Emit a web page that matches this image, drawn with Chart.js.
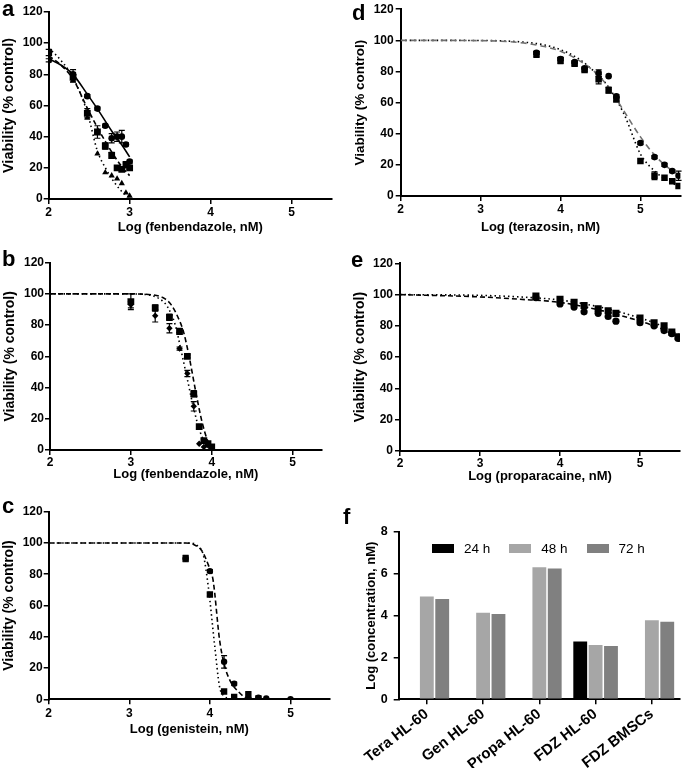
<!DOCTYPE html>
<html><head><meta charset="utf-8">
<script src="https://cdn.jsdelivr.net/npm/chart.js@4.4.0/dist/chart.umd.min.js"></script>
<style>
html,body{margin:0;padding:0;background:#fff;}
#fig{position:relative;width:685px;height:768px;overflow:hidden;font-family:"Liberation Sans",Arial,sans-serif;}
canvas{position:absolute;}
.letter{position:absolute;font-weight:bold;font-size:22px;line-height:20px;color:#000;}
#fLegend{position:absolute;left:432px;top:541px;display:flex;align-items:center;font-size:13.5px;color:#000;}
#fLegend .item{display:flex;align-items:center;margin-right:19px;}
#fLegend .box{width:22px;height:9px;margin-right:10px;}
</style></head><body>
<div id="fig">
  <canvas id="cA"></canvas><canvas id="cB"></canvas><canvas id="cC"></canvas>
  <canvas id="cD"></canvas><canvas id="cE"></canvas><canvas id="cF"></canvas>
  <div class="letter" style="left:2px;top:-1px;">a</div>
  <div class="letter" style="left:352px;top:3px;">d</div>
  <div class="letter" style="left:2px;top:249px;">b</div>
  <div class="letter" style="left:351px;top:250px;">e</div>
  <div class="letter" style="left:2px;top:496px;">c</div>
  <div class="letter" style="left:343px;top:507px;">f</div>
  <div id="fLegend"></div>
</div>
<script>
// ---------- Panel a : fenbendazole ----------
const aX         = [2, 2.301, 2.477, 2.602, 2.699, 2.778, 2.845, 2.903, 2.954, 3.0];
const aCircles   = [89, 80, 66, 58, 47, 39, 40, 40, 35, 24];
const aCirclesEr = [1, 3, 1, 1, 1, 3, 3, 4, 1, 1];
const aSquares   = [94, 78, 55, 43, 34, 28, 20, 19, 22, 20];
const aSquaresEr = [2, 3, 3, 4, 2, 2, 1, 1, 2, 1];
const aTriangles = [93, 76, 52, 29, 17, 15, 13, 10, 4, 2];
const aSolidX  = [2, 2.15, 2.3, 2.48, 2.6, 2.78, 2.9, 3.0];
const aSolidY  = [90, 86, 80, 67, 58, 43.5, 35, 27];
const aDashX   = [2, 2.15, 2.3, 2.48, 2.6, 2.7, 2.78, 2.9, 3.0];
const aDashY   = [92, 86, 77, 58, 46, 37, 30, 21, 15];
const aDotX    = [2, 2.15, 2.3, 2.48, 2.6, 2.7, 2.78, 2.9, 3.0];
const aDotY    = [97, 89, 78, 55, 31, 20, 13, 5, 1];

// ---------- Panel b : fenbendazole ----------
const bX        = [3.0, 3.301, 3.477, 3.602, 3.699, 3.778, 3.845, 3.903, 3.954, 4.0];
const bSquares  = [95, 91, 85, 76, 60, 36, 15, 6, 4, 2];
const bSquaresEr= [5, 2, 2, 2, 1, 2, 1, 1, 1, 1];
const bDiamonds = [93, 86, 78, 65, 49, 28, 4, 2, 3, 1];
const bDiamondsEr=[2, 4, 3, 1, 2, 3, 0, 0, 0, 0];
const bDashX = [2, 3, 3.25, 3.4, 3.5, 3.6, 3.65, 3.72, 3.8, 3.88, 3.95, 4.0];
const bDashY = [100, 100, 99.5, 97.5, 93, 83, 76, 60, 38, 18, 6, 2];
const bDotX  = [2, 3, 3.2, 3.35, 3.45, 3.55, 3.62, 3.7, 3.78, 3.86, 3.95, 4.0];
const bDotY  = [100, 100, 99.5, 97, 92, 80, 64, 45, 26, 11, 3, 1];

// ---------- Panel c : genistein ----------
const cX        = [3.699, 4.0, 4.176, 4.301, 4.477, 4.602, 4.699, 5.0];
const cCircles  = [90, 82, 24, 10, 0.5, 1, 0.5, 0];
const cCirclesEr= [0, 1, 4, 1, 0, 0, 0, 0];
const cSquares  = [90, 67, 5, 1.5, 3, 0.5, null, null];
const cSquaresEr= [2, 1, 0, 0, 2, 0, 0, 0];
const cDashX = [2, 3.7, 3.8, 3.9, 3.98, 4.04, 4.12, 4.18, 4.25, 4.37, 4.45];
const cDashY = [100, 100, 99, 95, 86, 76, 38, 22, 12, 4, 0.5];
const cDotX  = [2, 3.75, 3.85, 3.92, 3.98, 4.06, 4.12, 4.18, 4.25];
const cDotY  = [100, 100, 98, 92, 72, 34, 8, 2, 0];

// ---------- Panel d : terazosin ----------
const dX        = [3.699, 4.0, 4.176, 4.301, 4.477, 4.602, 4.699, 5.0, 5.176, 5.301, 5.398, 5.477];
const dCircles  = [92, 88, 86, 82, 79, 77, 64, 34, 25, 20, 16, 13];
const dCirclesEr= [1, 1, 1, 1, 2, 0, 1, 1, 1, 1, 1, 3];
const dSquares  = [91, 87, 85, 81, 75, 68, 62, 22.5, 13, 11.7, 9.5, 6.5];
const dSquaresEr= [2, 2, 1, 1, 3, 2, 1, 0, 2.5, 0, 1, 0];
const dDashX = [2, 3, 3.5, 3.8, 4, 4.2, 4.4, 4.6, 4.8, 5, 5.2, 5.35, 5.5];
const dDashY = [100, 99.8, 98.5, 96, 93, 88, 81, 70, 54, 38, 25, 18, 13];
const dDotX  = [2, 3, 3.5, 3.8, 4, 4.2, 4.4, 4.6, 4.8, 5, 5.2, 5.35, 5.5];
const dDotY  = [100, 99.9, 99, 97, 94, 89, 81, 70, 52, 27, 15, 9.5, 6];

// ---------- Panel e : proparacaine ----------
const eX        = [3.699, 4.0, 4.176, 4.301, 4.477, 4.602, 4.699, 5.0, 5.176, 5.301, 5.398, 5.477];
const eSquares  = [99, 97, 95, 93, 91, 89.7, 88, 85, 82, 80, 76, 73];
const eCircles  = [98, 94, 92, 89, 88, 86, 83, 82, 80, 77, 75, 72];
const eDotX  = [2, 3, 3.5, 4, 4.5, 5, 5.25, 5.5];
const eDotY  = [100, 99.5, 98.5, 96.5, 92, 85, 80.5, 74];
const eDashX = [2, 3, 3.5, 4, 4.5, 5, 5.25, 5.5];
const eDashY = [100, 98.5, 97, 95, 90, 83, 78.5, 72];

// ---------- Panel f : log IC50 ----------
const fCategories = ['Tera HL-60', 'Gen HL-60', 'Propa HL-60', 'FDZ HL-60', 'FDZ BMSCs'];
const fSeries = ['24 h', '48 h', '72 h'];
const f24h = [null, null, null, 2.76, null];
const f48h = [4.91, 4.14, 6.31, 2.60, 3.78];
const f72h = [4.80, 4.08, 6.26, 2.55, 3.71];
const fColors = ['#000000', '#a6a6a6', '#808080'];

Chart.defaults.font.family = '"Liberation Sans", Arial, sans-serif';
Chart.defaults.color = '#000';

const errorBars = {
  id: 'errorBars',
  afterDatasetsDraw(chart) {
    const {ctx} = chart; const xs = chart.scales.x, ys = chart.scales.y;
    ctx.save(); ctx.strokeStyle = '#000'; ctx.lineWidth = 1.2;
    chart.data.datasets.forEach(ds => {
      if (!ds.errs) return;
      ds.data.forEach((p, i) => {
        const e = ds.errs[i];
        if (!e || p.y == null) return;
        const px = xs.getPixelForValue(p.x);
        const t = ys.getPixelForValue(p.y + e), b = ys.getPixelForValue(Math.max(0, p.y - e));
        ctx.beginPath();
        ctx.moveTo(px, t); ctx.lineTo(px, b);
        ctx.moveTo(px - 3, t); ctx.lineTo(px + 3, t);
        ctx.moveTo(px - 3, b); ctx.lineTo(px + 3, b);
        ctx.stroke();
      });
    });
    ctx.restore();
  }
};

function pts(xs, ys) { return xs.map((x, i) => ({x: x, y: ys[i]})).filter(p => p.y !== null); }
function marks(xs, ys, style, r, errs) {
  const d = {data: pts(xs, ys), showLine: false, pointStyle: style, pointRadius: r,
    backgroundColor: '#000', borderColor: '#000', borderWidth: 0, order: 0};
  if (errs) d.errs = xs.map((x, i) => errs[i]).filter((e, i) => ys[i] !== null);
  return d;
}
function curve(xs, ys, dash, color) {
  return {data: pts(xs, ys), showLine: true, pointRadius: 0, borderColor: color || '#000',
    borderWidth: 1.6, borderDash: dash, cubicInterpolationMode: 'monotone', fill: false, order: 1};
}

function curvePanel(id, L, T, W, area, o) {
  const xTitleSize = 13, yTitleSize = o.yTitleSize || 14;
  const H = Math.round(area.b + o.xTitleOff + xTitleSize * 0.6 - T);
  const cv = document.getElementById(id);
  cv.width = W; cv.height = H; cv.style.left = L + 'px'; cv.style.top = T + 'px';
  new Chart(cv, {
    type: 'scatter',
    data: {datasets: o.datasets},
    options: {
      responsive: false, animation: false, devicePixelRatio: 1,
      layout: {padding: {left: 0, top: area.t - T, right: L + W - area.r, bottom: 0}},
      plugins: {legend: {display: false}, tooltip: {enabled: false}},
      scales: {
        x: {type: 'linear', min: 2, max: o.xMax,
          ticks: {stepSize: 1, includeBounds: false, color: '#000', font: {size: 12, weight: 'bold'}, padding: o.xTickPad, maxRotation: 0},
          afterBuildTicks: s => { s.ticks = s.ticks.filter(t => Number.isInteger(t.value)); },
          grid: {drawOnChartArea: false, drawTicks: true, tickLength: 5, color: '#000', lineWidth: 1.5},
          border: {color: '#000', width: 2},
          title: {display: true, text: o.xTitle, color: '#000', font: {size: xTitleSize, weight: 'bold'}, padding: 0},
          afterFit: s => { s.height = T + H - area.b; }
        },
        y: {min: 0, max: 120,
          ticks: {stepSize: 20, color: '#000', font: {size: 12, weight: 'bold'}, padding: o.yTickPad},
          grid: {drawOnChartArea: false, drawTicks: true, tickLength: 5, color: '#000', lineWidth: 1.5},
          border: {color: '#000', width: 2},
          title: {display: true, text: 'Viability (% control)', color: '#000', font: {size: yTitleSize, weight: 'bold'},
            padding: {top: o.yTitleX - L - yTitleSize * 0.6, bottom: 0}},
          afterFit: s => { s.width = area.l - L; }
        }
      }
    },
    plugins: [errorBars]
  });
}

curvePanel('cA', 0, 0, 340, {l: 48.7, r: 332, t: 12, b: 199}, {
  xMax: 5.5, xTitle: 'Log (fenbendazole, nM)', xTitleOff: 28, xTickPad: 1, yTickPad: 1, yTitleX: 8.7, yTitleSize: 14.5,
  datasets: [
    marks(aX, aCircles, 'circle', 3.3, aCirclesEr),
    marks(aX, aSquares, 'rect', 4.8, aSquaresEr),
    marks(aX, aTriangles, 'triangle', 3.6),
    curve(aSolidX, aSolidY, []),
    curve(aDashX, aDashY, [5, 3]),
    curve(aDotX, aDotY, [1.5, 3])
  ]
});
curvePanel('cB', 0, 250, 340, {l: 50, r: 321.7, t: 262.7, b: 450}, {
  xMax: 5.36, xTitle: 'Log (fenbendazole, nM)', xTitleOff: 24, xTickPad: 0, yTickPad: 1, yTitleX: 10.5,
  datasets: [
    marks(bX, bSquares, 'rect', 4.8, bSquaresEr),
    marks(bX, bDiamonds, 'rectRot', 3.2, bDiamondsEr),
    curve(bDashX, bDashY, [5, 3]),
    curve(bDotX, bDotY, [1.5, 3])
  ]
});
curvePanel('cC', 0, 500, 340, {l: 48.7, r: 330, t: 511.7, b: 699.3}, {
  xMax: 5.49, xTitle: 'Log (genistein, nM)', xTitleOff: 30, xTickPad: 2, yTickPad: 1, yTitleX: 9,
  datasets: [
    marks(cX, cSquares, 'rect', 4.5, cSquaresEr),
    marks(cX, cCircles, 'circle', 3.2, cCirclesEr),
    curve(cDashX, cDashY, [5, 3]),
    curve(cDotX, cDotY, [1.5, 3])
  ]
});
curvePanel('cD', 340, 0, 345, {l: 400.7, r: 683, t: 7.3, b: 196}, {
  xMax: 5.5, xTitle: 'Log (terazosin, nM)', xTitleOff: 31, xTickPad: 1, yTickPad: 2, yTitleX: 360, yTitleSize: 13.5,
  datasets: [
    marks(dX, dCircles, 'circle', 3.3, dCirclesEr),
    marks(dX, dSquares, 'rect', 4.6, dSquaresEr),
    curve(dDashX, dDashY, [6, 4], '#707070'),
    curve(dDotX, dDotY, [1.5, 3])
  ]
});
curvePanel('cE', 340, 250, 345, {l: 400, r: 683, t: 263.3, b: 451}, {
  xMax: 5.5, xTitle: 'Log (proparacaine, nM)', xTitleOff: 25, xTickPad: 0, yTickPad: 2, yTitleX: 360,
  datasets: [
    marks(eX, eSquares, 'rect', 5, null),
    marks(eX, eCircles, 'circle', 3.6, null),
    curve(eDotX, eDotY, [1.5, 3]),
    curve(eDashX, eDashY, [5, 3])
  ]
});

// ---------- Panel f (bar chart) ----------
(function () {
  const L = 340, T = 500, W = 345, H = 268;
  const area = {l: 398.7, r: 680, t: 532, b: 699.3};
  const cv = document.getElementById('cF');
  cv.width = W; cv.height = H; cv.style.left = L + 'px'; cv.style.top = T + 'px';
  const chart = new Chart(cv, {
    type: 'bar',
    data: {labels: fCategories, datasets: [
      {label: fSeries[0], data: f24h, backgroundColor: fColors[0]},
      {label: fSeries[1], data: f48h, backgroundColor: fColors[1]},
      {label: fSeries[2], data: f72h, backgroundColor: fColors[2]}
    ]},
    options: {
      responsive: false, animation: false, devicePixelRatio: 1,
      categoryPercentage: 0.82, barPercentage: 0.9,
      layout: {padding: {left: 0, top: area.t - T, right: L + W - area.r, bottom: 0}},
      plugins: {legend: {display: false}, tooltip: {enabled: false}},
      scales: {
        x: {ticks: {color: '#000', font: {size: 15, weight: 'bold'}, minRotation: 38, maxRotation: 38, padding: 1, autoSkip: false},
          grid: {offset: false, drawOnChartArea: false, drawTicks: true, tickLength: 5, color: '#000', lineWidth: 1.5},
          border: {color: '#000', width: 2},
          afterFit: s => { s.height = T + H - area.b; }
        },
        y: {min: 0, max: 8,
          ticks: {stepSize: 2, color: '#000', font: {size: 12.5, weight: 'bold'}, padding: 6},
          grid: {drawOnChartArea: false, drawTicks: true, tickLength: 5, color: '#000', lineWidth: 1.5},
          border: {color: '#000', width: 2},
          title: {display: true, text: 'Log (concentration, nM)', color: '#000', font: {size: 13, weight: 'bold'},
            padding: {top: 371.7 - L - 7.8, bottom: 0}},
          afterFit: s => { s.width = area.l - L; }
        }
      }
    }
  });
  const lg = document.getElementById('fLegend');
  chart.data.datasets.forEach(ds => {
    const it = document.createElement('div'); it.className = 'item';
    const bx = document.createElement('div'); bx.className = 'box'; bx.style.background = ds.backgroundColor;
    const tx = document.createElement('span'); tx.textContent = ds.label;
    it.appendChild(bx); it.appendChild(tx); lg.appendChild(it);
  });
})();
</script>
</body></html>
